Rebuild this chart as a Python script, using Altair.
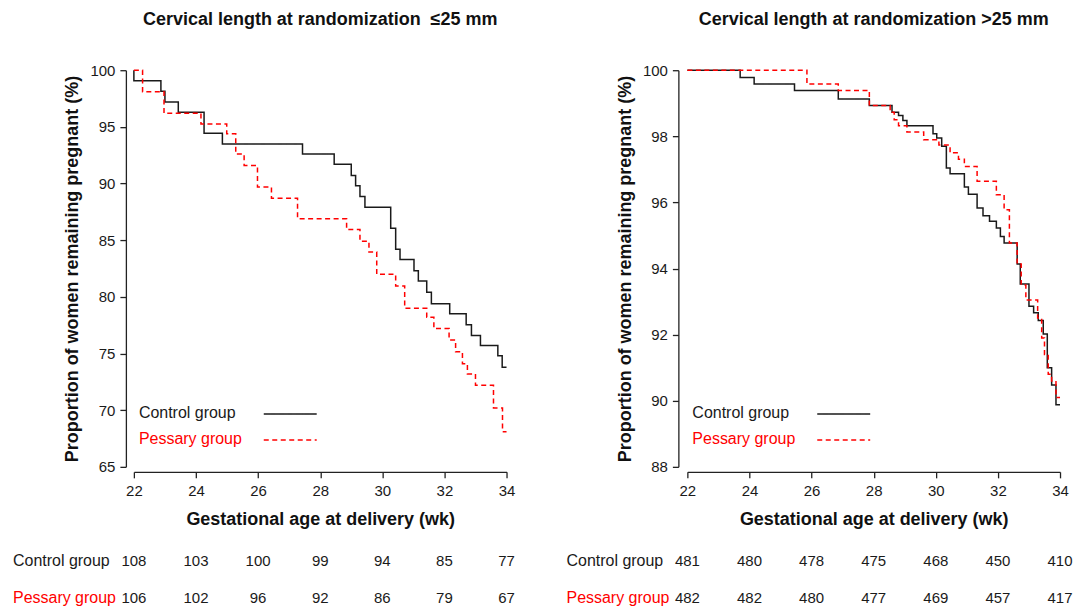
import altair as alt
import pandas as pd

# ---------------- data ----------------
week_ticks = [22, 24, 26, 28, 30, 32, 34]

# Left panel (cervical length <=25 mm)
left_control_x = [22, 22.0, 22.87, 23.0, 23.43, 24.26, 24.85, 27.43, 28.45, 29.0, 29.14, 29.28, 29.44,
                  30.27, 30.43, 30.57, 31.02, 31.16, 31.43, 31.58, 32.17, 32.70, 32.87, 33.16, 33.72, 33.86, 34.0]
left_control_y = [100, 99.07, 98.15, 97.2, 96.3, 94.44, 93.5, 92.6, 91.7, 90.7, 89.8, 88.85, 87.9,
                  86.05, 84.2, 83.3, 82.3, 81.4, 80.4, 79.4, 78.5, 77.55, 76.6, 75.7, 74.8, 73.8, 73.8]
left_pessary_x = [22, 22.28, 22.97, 24.16, 24.99, 25.28, 25.55, 25.98, 26.43, 27.27, 28.85, 29.28, 29.57,
                  29.82, 30.43, 30.72, 31.43, 31.66, 32.15, 32.36, 32.58, 32.74, 33.0, 33.58, 33.87, 34.0]
left_pessary_y = [100, 98.1, 96.2, 95.25, 94.4, 92.6, 91.6, 89.7, 88.7, 86.9, 85.95, 84.9, 83.95,
                  82.0, 80.96, 79.0, 78.2, 77.2, 76.2, 75.15, 74.1, 73.2, 72.2, 70.2, 68.1, 68.1]

# Right panel (cervical length >25 mm)
right_control_x = [22, 23.7, 24.15, 25.45, 26.86, 27.86, 28.59, 28.8, 28.94, 29.07, 29.91, 30.03, 30.19,
                   30.34, 30.46, 30.92, 31.05, 31.33, 31.52, 31.73, 31.95, 32.08, 32.2, 32.62, 32.72,
                   33.0, 33.15, 33.3, 33.46, 33.59, 33.73, 33.87, 34.0]
right_control_y = [100, 99.78, 99.58, 99.39, 99.13, 98.93, 98.73, 98.63, 98.48, 98.32, 98.08, 97.95, 97.7,
                   97.04, 96.87, 96.47, 96.25, 95.83, 95.6, 95.43, 95.23, 94.97, 94.77, 94.14, 93.53,
                   92.86, 92.66, 92.43, 92.02, 91.0, 90.48, 89.88, 89.88]
right_pessary_x = [22, 25.85, 26.86, 27.86, 28.53, 28.66, 28.8, 29.07, 29.61, 30.1, 30.46, 30.73, 30.92,
                   31.33, 31.95, 32.2, 32.37, 32.62, 32.75, 32.9, 33.28, 33.41, 33.5, 33.62, 33.73, 33.87, 34.0]
right_pessary_y = [100, 99.58, 99.39, 98.93, 98.73, 98.5, 98.32, 98.13, 97.9, 97.74, 97.5, 97.31, 97.09,
                   96.64, 96.23, 95.78, 94.77, 94.14, 93.5, 93.05, 92.5, 91.9, 91.4, 90.8, 90.6, 90.1, 90.1]

# Numbers at risk
risk_left_control = [108, 103, 100, 99, 94, 85, 77]
risk_left_pessary = [106, 102, 96, 92, 86, 79, 67]
risk_right_control = [481, 480, 478, 475, 468, 450, 410]
risk_right_pessary = [482, 482, 480, 477, 469, 457, 417]

groups = ["Control group", "Pessary group"]
colors = ["#1a1a1a", "#ff0000"]
FONT = "Liberation Sans, Arial, sans-serif"


def panel(title, cx, cy, px, py, ydomain, yticks, risk_c, risk_p, yoffset):
    rows = []
    for i, (x, y) in enumerate(zip(cx, cy)):
        rows.append({"group": groups[0], "x": x, "y": y, "i": i})
    for i, (x, y) in enumerate(zip(px, py)):
        rows.append({"group": groups[1], "x": x, "y": y, "i": i})
    curves = pd.DataFrame(rows)

    X = alt.X("x:Q",
              scale=alt.Scale(domain=[22, 34], nice=False, zero=False),
              axis=alt.Axis(values=week_ticks, title="Gestational age at delivery (wk)",
                            offset=5, format="d", labelFlush=False))
    lines = alt.Chart(curves).mark_line(interpolate="step-after", strokeWidth=1.5).encode(
        x=X,
        y=alt.Y("y:Q", scale=alt.Scale(domain=ydomain, nice=False, zero=False),
                axis=alt.Axis(values=yticks, title="Proportion of women remaining pregnant (%)",
                              offset=yoffset, format="d", labelFlush=False)),
        color=alt.Color("group:N", scale=alt.Scale(domain=groups, range=colors), legend=None),
        strokeDash=alt.StrokeDash("group:N", scale=alt.Scale(domain=groups, range=[[1, 0], [5, 3.5]]),
                                  legend=None),
        detail="group:N",
        order="i:Q",
    )

    layers = [lines]
    # legend (annotation in pixel space)
    legend_rows = [(groups[0], colors[0], 343, [1, 0]), (groups[1], colors[1], 369, [5, 3.5])]
    for name, col, ypix, dash in legend_rows:
        layers.append(alt.Chart(pd.DataFrame({"t": [name]})).mark_text(
            align="left", baseline="middle", fontSize=16, font=FONT, color=col).encode(
            text="t:N", x=alt.value(5), y=alt.value(ypix)))
        layers.append(alt.Chart(pd.DataFrame({"t": [name]})).mark_rule(
            color=col, strokeWidth=1.5, strokeDash=dash).encode(
            x=alt.value(130), x2=alt.value(183), y=alt.value(ypix + 1)))

    # numbers-at-risk table
    table_rows = [(groups[0], colors[0], 491, risk_c), (groups[1], colors[1], 528, risk_p)]
    for name, col, ypix, vals in table_rows:
        layers.append(alt.Chart(pd.DataFrame({"t": [name]})).mark_text(
            align="left", baseline="middle", fontSize=16, font=FONT, color=col).encode(
            text="t:N", x=alt.value(-121), y=alt.value(ypix)))
        layers.append(alt.Chart(pd.DataFrame({"x": week_ticks, "n": vals})).mark_text(
            align="center", baseline="middle", fontSize=15, font=FONT, color="#1a1a1a").encode(
            x=X, text="n:Q", y=alt.value(ypix)))

    return alt.layer(*layers).properties(
        width=373, height=397,
        title=alt.TitleParams(title, fontSize=18, font=FONT, fontWeight="bold", color="#111",
                              anchor="middle", offset=34),
    )


left = panel("Cervical length at randomization\u00a0 \u226425 mm", left_control_x, left_control_y,
             left_pessary_x, left_pessary_y, [65, 100], [65, 70, 75, 80, 85, 90, 95, 100],
             risk_left_control, risk_left_pessary, 8)
right = panel("Cervical length at randomization >25 mm", right_control_x, right_control_y,
              right_pessary_x, right_pessary_y, [88, 100], [88, 90, 92, 94, 96, 98, 100],
              risk_right_control, risk_right_pessary, 9)

chart = alt.hconcat(left, right, spacing=181, bounds="flush").properties(
    padding={"left": 5, "top": 3, "right": 5, "bottom": 0}
).configure_view(stroke=None).configure_axis(
    grid=False,
    domainColor="#222", domainWidth=1.3,
    tickColor="#222", tickWidth=1.3, tickSize=6,
    labelFont=FONT, labelFontSize=15, labelColor="#1a1a1a",
    titleFont=FONT, titleFontSize=18, titleFontWeight="bold", titleColor="#111",
).configure_axisY(labelPadding=5, titlePadding=8, labelAngle=0).configure_axisX(
    labelPadding=6, titlePadding=12)

chart.save("out.html", embed_options={"renderer": "svg", "actions": False})
